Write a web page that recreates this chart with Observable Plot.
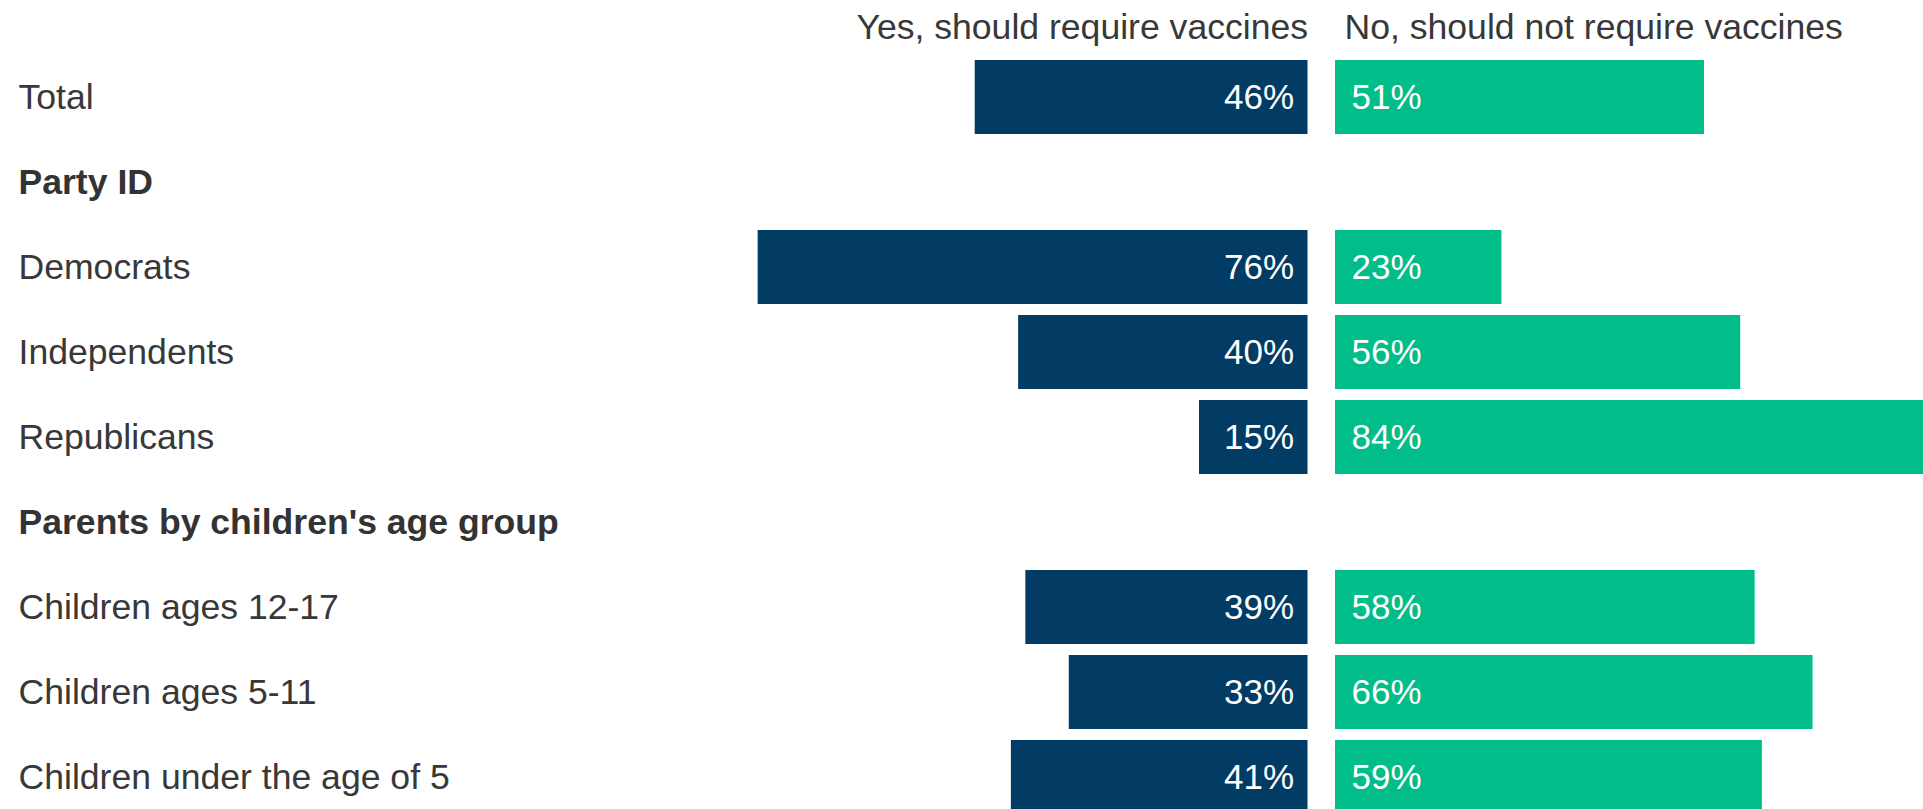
<!DOCTYPE html>
<html>
<head>
<meta charset="utf-8">
<script src="https://cdn.jsdelivr.net/npm/d3@7"></script>
<script src="https://cdn.jsdelivr.net/npm/@observablehq/plot@0.6"></script>
<style>
  html, body { margin: 0; padding: 0; background: #fff; overflow: hidden; }
  #chart svg { display: block; }
</style>
</head>
<body>
<div id="chart"></div>
<script>
// ---- data ----
const rows = [
  "Total",
  "Party ID",
  "Democrats",
  "Independents",
  "Republicans",
  "Parents by children's age group",
  "Children ages 12-17",
  "Children ages 5-11",
  "Children under the age of 5"
];
const headerRows = ["Party ID", "Parents by children's age group"];
const yesValues = [46, null, 76, 40, 15, null, 39, 33, 41];
const noValues  = [51, null, 23, 56, 84, null, 58, 66, 59];
const seriesLabels = ["Yes, should require vaccines", "No, should not require vaccines"];
const colors = ["#023b64", "#00bd89"];

// ---- build table ----
const GAP = 3.8; // gap between the two bar origins, in % units
const table = rows.map((r, i) => ({row: r, yes: yesValues[i], no: noValues[i], header: headerRows.includes(r)}));
const yesData = table.filter(d => d.yes != null);
const noData = table.filter(d => d.no != null);

const FONT = "'Liberation Sans', Arial, Helvetica, sans-serif";

const chart = Plot.plot({
  width: 1923,
  height: 809,
  marginTop: 0,
  marginBottom: 0,
  marginLeft: 0,
  marginRight: 0,
  style: {fontFamily: FONT, color: "#383838", background: "#fff"},
  x: {domain: [-180.72, 85.07], range: [0, 1923], axis: null},
  y: {domain: rows, range: [53.44, 819.57], paddingInner: 0.13, paddingOuter: 0.065, axis: null},
  marks: [
    Plot.barX(yesData, {y: "row", x1: d => -d.yes, x2: 0, fill: colors[0], clip: true}),
    Plot.barX(noData, {y: "row", x1: GAP, x2: d => GAP + d.no, fill: colors[1], clip: true}),
    Plot.text(yesData, {y: "row", x: 0, text: d => d.yes + "%", textAnchor: "end", dx: -14, fill: "#fff", fontSize: 35}),
    Plot.text(noData, {y: "row", x: GAP, text: d => d.no + "%", textAnchor: "start", dx: 16, fill: "#fff", fontSize: 35}),
    Plot.text(table.filter(d => !d.header), {y: "row", text: "row", frameAnchor: "left", dx: 18, textAnchor: "start", fill: "#383838", fontSize: 35.6}),
    Plot.text(table.filter(d => d.header), {y: "row", text: "row", frameAnchor: "left", dx: 18, textAnchor: "start", fill: "#333", fontSize: 35.6, fontWeight: "bold"}),
    Plot.text([seriesLabels[0]], {x: [0], text: d => d, frameAnchor: "top", dy: 27, textAnchor: "end", lineAnchor: "middle", fill: "#383838", fontSize: 35.6}),
    Plot.text([seriesLabels[1]], {x: [GAP], text: d => d, frameAnchor: "top", dy: 27, dx: 9, textAnchor: "start", lineAnchor: "middle", fill: "#383838", fontSize: 35.6})
  ]
});
document.getElementById("chart").appendChild(chart);
</script>
</body>
</html>
